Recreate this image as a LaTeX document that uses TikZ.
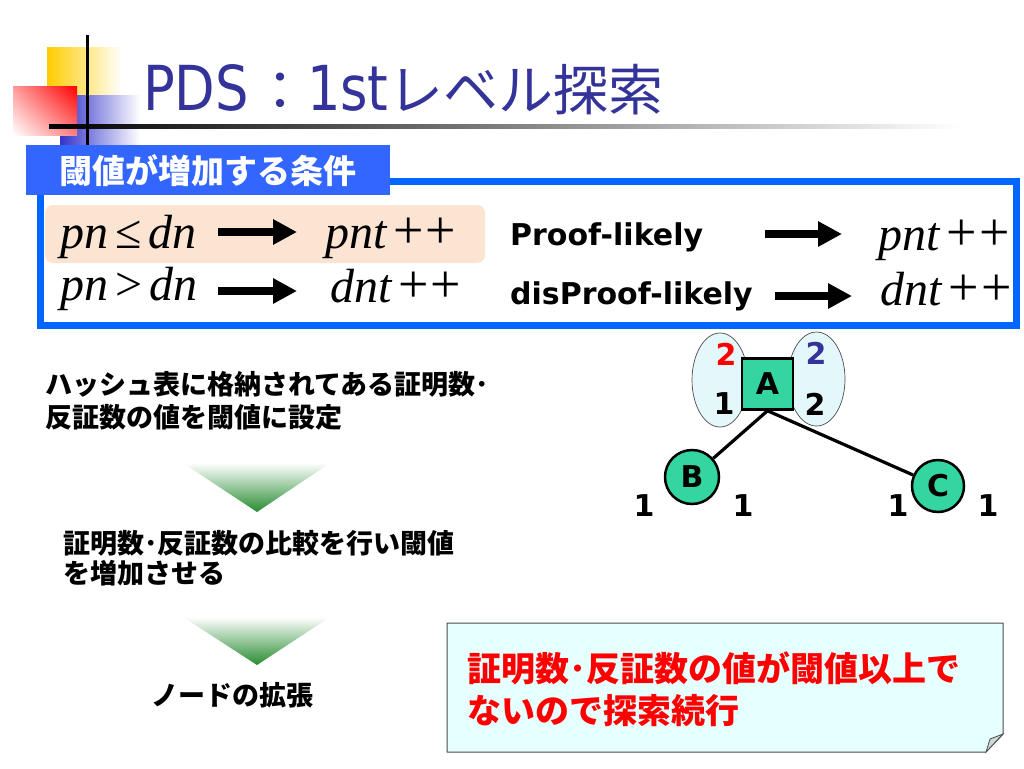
\documentclass[tikz,border=0pt]{standalone}
\usepackage{fontspec}
\setmainfont{DejaVu Sans}
\newfontfamily\cjk{Noto Sans CJK JP}
\newfontfamily\tms{Liberation Serif}
\newfontfamily\ttlfont[FakeStretch=0.85]{DejaVu Sans}
\usetikzlibrary{arrows.meta,shadings}
\definecolor{titleblue}{RGB}{51,51,153}
\definecolor{framecol}{RGB}{0,102,255}
\definecolor{tabcol}{RGB}{51,102,255}
\definecolor{peach}{RGB}{252,228,210}
\definecolor{mint}{RGB}{51,214,160}
\definecolor{ellcol}{RGB}{228,247,250}
\definecolor{notecol}{RGB}{230,255,255}
\definecolor{numblue}{RGB}{51,51,153}
\definecolor{trigreen}{RGB}{40,140,50}
\definecolor{ylw}{RGB}{255,204,0}
\definecolor{lblue}{RGB}{51,51,204}
\newcommand{\pp}{\kern7pt{\upshape\fontsize{54}{56}\selectfont +\kern2pt+}}
\begin{document}
\begin{tikzpicture}[x=1pt,y=-1pt,
  jptext/.style={font=\cjk\bfseries\fontsize{27}{30}\selectfont, inner sep=0, anchor=west},
  jpnote/.style={font=\cjk\bfseries\fontsize{34}{36}\selectfont, inner sep=0, anchor=west, text=red},
  num/.style={font=\bfseries\fontsize{30}{34}\selectfont, inner sep=0},
  mth/.style={font=\tms\itshape\fontsize{48}{52}\selectfont, inner sep=0, anchor=base west},
  lab/.style={font=\bfseries\fontsize{30}{34}\selectfont, inner sep=0, anchor=base west},
  fatarrow/.style={line width=8pt, -{Triangle[length=24pt,width=24pt]}},
  tnode/.style={draw, line width=2.5pt, fill=mint, font=\bfseries\fontsize{30}{34}\selectfont, inner sep=0},
  oval/.style={draw=black!70, fill=ellcol, line width=0.7pt},
  greentri/.style={top color=white, bottom color=trigreen},
  edge/.style={line width=3.2pt}
]
\useasboundingbox (0,0) rectangle (1024,768);
\fill[white] (0,0) rectangle (1024,768);
% logo
\shade[left color=ylw, middle color=ylw, right color=white] (47,48) rectangle (122,97);
\shade[left color=lblue, middle color=lblue, right color=white] (60,95) rectangle (140,145);
\shade[upper left=red!40!white, upper right=red, lower left=white, lower right=red!50!white] (13,86) rectangle (77,135);
\shade[left color=black, right color=white] (49,124) rectangle (960,128);
\draw[line width=3pt] (87,35) -- (87,145);
% title
\node[anchor=base west, inner sep=0, text=titleblue] (title) at (143,110)
  {{\ttlfont\fontsize{62}{70}\selectfont PDS}\kern4pt{\cjk\fontsize{54}{60}\selectfont ：}{\ttlfont\fontsize{62}{70}\selectfont 1st}{\cjk\fontsize{55}{60}\selectfont レベル探索}};
% frame and tab
\draw[framecol, line width=7pt] (40,181) rectangle (1016,325);
\node[fill=tabcol, text=white, font=\cjk\bfseries\fontsize{33}{36}\selectfont, minimum width=364pt, minimum height=50pt, inner sep=0, anchor=north west] (tab) at (26,145) {閾値が増加する条件};
\fill[peach, rounded corners=8pt] (45,205) rectangle (485,263);
% rows
\node[mth] (c1) at (60,248) {pn\kern7pt{\upshape ≤}\kern7pt dn};
\coordinate (a1s) at (218,232); \coordinate (a1e) at (297,232);
\draw[fatarrow] (a1s) -- (a1e);
\node[mth] (r1) at (325,248) {pnt\pp};
\node[mth] (c2) at (60,300) {pn\kern7pt{\upshape >}\kern7pt dn};
\coordinate (a2s) at (218,291); \coordinate (a2e) at (297,291);
\draw[fatarrow] (a2s) -- (a2e);
\node[mth] (r2) at (330,302) {dnt\pp};
\node[lab] (p1) at (510,245) {Proof-likely};
\coordinate (a3s) at (765,234); \coordinate (a3e) at (842,234);
\draw[fatarrow] (a3s) -- (a3e);
\node[mth] (r3) at (878,250) {pnt\pp};
\node[lab] (p2) at (510,304) {disProof-likely};
\coordinate (a4s) at (775,296); \coordinate (a4e) at (852,296);
\draw[fatarrow] (a4s) -- (a4e);
\node[mth] (r4) at (880,305) {dnt\pp};
% tree
\draw[oval] (720,380) ellipse [x radius=28, y radius=47];
\draw[oval] (816.5,379) ellipse [x radius=28.5, y radius=47];
\node[tnode, minimum size=51pt] (A) at (767.5,384) {A};
\node[tnode, circle, minimum size=54pt] (B) at (692,477) {B};
\node[tnode, circle, minimum size=52pt] (C) at (938,486) {C};
\draw[edge] (A.south) -- (B);
\draw[edge] (A.south) -- (C);
\node[num, text=red] (pa) at (726,354) {2};
\node[num] (da) at (724,404) {1};
\node[num, text=numblue] (pb) at (816,353) {2};
\node[num] (db) at (815,404) {2};
\node[num] (b1) at (644,506) {1};
\node[num] (b2) at (743,506) {1};
\node[num] (c1n) at (898,506) {1};
\node[num] (c2n) at (988,506) {1};
% left flow
\node[jptext] (t1) at (45,384) {ハッシュ表に格納されてある証明数･};
\node[jptext] (t2) at (45,417) {反証数の値を閾値に設定};
\shade[greentri] (183,463) -- (330,463) -- (257,512) -- cycle;
\node[jptext] (t3) at (63,543) {証明数･反証数の比較を行い閾値};
\node[jptext] (t4) at (63,573) {を増加させる};
\shade[greentri] (183,617) -- (330,617) -- (257,665) -- cycle;
\node[jptext, anchor=center] (t5) at (232,695) {ノードの拡張};
% note
\path[draw=gray!60!black, fill=notecol, line width=1pt] (447,623) -- (1003,623) -- (1003,734) -- (986,752) -- (447,752) -- cycle;
\draw[fill=notecol!70!gray, draw=gray!60!black, line width=0.8pt] (986,752) -- (990,739) -- (1003,734) -- cycle;
\node[jpnote] (n1) at (467,668) {証明数･反証数の値が閾値以上で};
\node[jpnote] (n2) at (467,711) {ないので探索続行};
\end{tikzpicture}
\end{document}
